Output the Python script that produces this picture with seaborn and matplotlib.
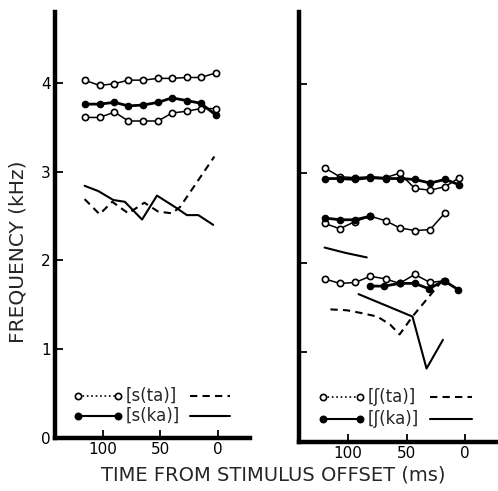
import matplotlib
matplotlib.use("Agg")
import matplotlib.pyplot as plt
import seaborn as sns

# ---- left panel: [s] ----
t_left = [116, 103, 90, 78, 65, 52, 40, 27, 15, 2]
s_ta_f4 = [4.03, 3.97, 3.99, 4.03, 4.03, 4.05, 4.05, 4.06, 4.06, 4.11]
s_ka_f3 = [3.76, 3.76, 3.78, 3.74, 3.75, 3.78, 3.83, 3.80, 3.77, 3.64]
s_ta_f3 = [3.61, 3.61, 3.67, 3.57, 3.57, 3.57, 3.66, 3.68, 3.71, 3.71]

s_ka_line_t = [116, 104, 91, 81, 66, 53, 36, 27, 17, 4]
s_ka_line_f = [2.84, 2.78, 2.68, 2.66, 2.46, 2.73, 2.59, 2.51, 2.51, 2.40]
s_ta_line_t = [116, 103, 92, 78, 64, 52, 40, 33, 3]
s_ta_line_f = [2.69, 2.52, 2.66, 2.53, 2.65, 2.55, 2.53, 2.60, 3.17]

# ---- right panel: [ʃ] ----
t_right = [120, 107, 94, 81, 68, 56, 43, 30, 17, 5]
sh_ta_f3 = [3.06, 2.96, 2.95, 2.96, 2.95, 3.00, 2.83, 2.81, 2.85, 2.95]
sh_ka_f3 = [2.94, 2.94, 2.93, 2.95, 2.94, 2.94, 2.93, 2.89, 2.93, 2.87]
sh_ta_f2 = [2.44, 2.38, 2.46, 2.52, 2.47, 2.39, 2.36, 2.37, 2.56]
sh_ka_f2 = [2.50, 2.48, 2.48, 2.52]
sh_ta_f1 = [1.82, 1.77, 1.78, 1.85, 1.82, 1.77, 1.87, 1.78, 1.80]
sh_ka_f1_t = [81, 69, 56, 43, 31, 18, 6]
sh_ka_f1 = [1.74, 1.74, 1.77, 1.77, 1.71, 1.80, 1.70]

sh_ka_upper_line_t = [120, 102, 84]
sh_ka_upper_line_f = [2.17, 2.11, 2.06]
sh_ka_line_t = [91, 45, 33, 19]
sh_ka_line_f = [1.65, 1.40, 0.82, 1.14]
sh_ta_line_t = [115, 101, 89, 75, 64, 56, 45, 19]
sh_ta_line_f = [1.48, 1.47, 1.44, 1.40, 1.31, 1.20, 1.40, 1.81]

x_ticks = [100, 50, 0]

sns.set_theme(style="ticks")
plt.rcParams['font.family'] = ['DejaVu Sans']

DASH = (0, (3.5, 2.5))


def open_track(ax, t, f):
    sns.lineplot(x=t, y=f, ax=ax, estimator=None, sort=False, color='black',
                 linewidth=1.1, marker='o', markersize=4.5,
                 markerfacecolor='white', markeredgecolor='black',
                 markeredgewidth=1.2)


def filled_track(ax, t, f):
    sns.lineplot(x=t, y=f, ax=ax, estimator=None, sort=False, color='black',
                 linewidth=2.0, marker='o', markersize=4.5,
                 markerfacecolor='black', markeredgecolor='black',
                 markeredgewidth=1.0)


def plain_line(ax, t, f, dashed):
    sns.lineplot(x=t, y=f, ax=ax, estimator=None, sort=False, color='black',
                 linewidth=1.5, linestyle=DASH if dashed else '-')


def legend_rows(ax, x0, x1, xt, xl0, xl1, y_rows, labels):
    styles = [(':', 'white', DASH), ('-', 'black', '-')]
    for y, lab, (ls, mfc, ls2) in zip(y_rows, labels, styles):
        ax.plot([x0, x1], [y, y], transform=ax.transAxes, color='black',
                linestyle=ls, linewidth=1.5 if ls == '-' else 1.2, marker='o',
                markersize=4.5, markerfacecolor=mfc, markeredgecolor='black',
                markeredgewidth=1.2, clip_on=False)
        ax.text(xt, y, lab, transform=ax.transAxes, va='center', ha='left',
                fontsize=12)
        ax.plot([xl0, xl1], [y, y], transform=ax.transAxes, color='black',
                linestyle=ls2, linewidth=1.5, clip_on=False)


def style_axes(ax, yticks, ylabels):
    ax.set_xlim(142, -28)
    ax.set_ylim(0, 4.8)
    ax.set_xticks(x_ticks)
    ax.set_xticklabels([str(v) for v in x_ticks], fontsize=11)
    ax.set_yticks(yticks)
    ax.set_yticklabels(ylabels, fontsize=11)
    ax.tick_params(direction='in', length=6, width=1.3, pad=3, colors='black')
    for side in ['top', 'right']:
        ax.spines[side].set_visible(False)
    for side in ['left', 'bottom']:
        ax.spines[side].set_linewidth(3.2)
        ax.spines[side].set_color('black')
    ax.set_xlabel('')
    ax.set_ylabel('')


fig = plt.figure(figsize=(4.98, 4.91), dpi=100)
ax1 = fig.add_axes([0.110, 0.108, 0.392, 0.868])
ax2 = fig.add_axes([0.600, 0.0998, 0.400, 0.876])

# left panel
open_track(ax1, t_left, s_ta_f4)
filled_track(ax1, t_left, s_ka_f3)
open_track(ax1, t_left, s_ta_f3)
plain_line(ax1, s_ka_line_t, s_ka_line_f, dashed=False)
plain_line(ax1, s_ta_line_t, s_ta_line_f, dashed=True)
style_axes(ax1, [0, 1, 2, 3, 4], ['0', '1', '2', '3', '4'])
legend_rows(ax1, 0.118, 0.323, 0.365, 0.692, 0.897, [0.0986, 0.0516],
            ['[s(ta)]', '[s(ka)]'])

# right panel
open_track(ax2, t_right, sh_ta_f3)
filled_track(ax2, t_right, sh_ka_f3)
open_track(ax2, t_right[:9], sh_ta_f2)
filled_track(ax2, t_right[:4], sh_ka_f2)
open_track(ax2, t_right[:9], sh_ta_f1)
filled_track(ax2, sh_ka_f1_t, sh_ka_f1)
plain_line(ax2, sh_ka_upper_line_t, sh_ka_upper_line_f, dashed=False)
plain_line(ax2, sh_ka_line_t, sh_ka_line_f, dashed=False)
plain_line(ax2, sh_ta_line_t, sh_ta_line_f, dashed=True)
style_axes(ax2, [1, 2, 3, 4], ['', '', '', ''])
legend_rows(ax2, 0.119, 0.307, 0.345, 0.658, 0.869, [0.105, 0.053],
            ['[ʃ(ta)]', '[ʃ(ka)]'])

fig.text(0.549, 0.033, 'TIME FROM STIMULUS OFFSET (ms)', ha='center',
         va='center', fontsize=14)
fig.text(0.036, 0.487, 'FREQUENCY (kHz)', ha='center', va='center',
         rotation=90, fontsize=14.5)

fig.savefig('out.png', dpi=100, facecolor='white')
